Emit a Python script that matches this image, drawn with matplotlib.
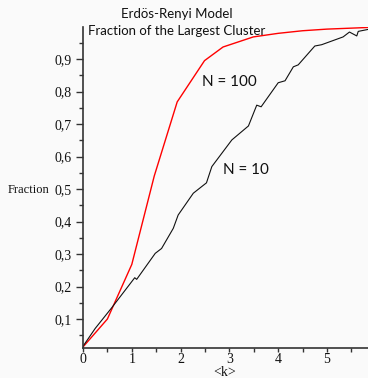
import matplotlib
matplotlib.use("Agg")
import matplotlib.pyplot as plt
from matplotlib.ticker import MultipleLocator, FixedLocator

plt.rcParams["font.family"] = ["Liberation Serif", "DejaVu Serif"]

# N = 100 (red)
k_n100 = [0, 0.5, 1.0, 1.46, 1.93, 2.49, 2.87, 3.49, 4.0, 4.5, 5.0, 5.5, 6.0]
f_n100 = [0.014, 0.10, 0.268, 0.54, 0.768, 0.895, 0.937, 0.968, 0.979, 0.987, 0.992, 0.995, 0.998]

# N = 10 (black)
k_n10 = [0, 0.25, 0.58, 1.06, 1.10, 1.48, 1.61, 1.85, 1.95, 2.26, 2.53, 2.64, 3.05,
         3.39, 3.56, 3.65, 4.0, 4.14, 4.31, 4.41, 4.75, 4.89, 5.33, 5.46, 5.61, 5.64, 5.84, 6.0]
f_n10 = [0.016, 0.071, 0.133, 0.227, 0.222, 0.302, 0.317, 0.379, 0.42, 0.487, 0.519, 0.569, 0.651,
         0.694, 0.758, 0.753, 0.827, 0.833, 0.876, 0.882, 0.94, 0.944, 0.968, 0.983, 0.971, 0.985, 0.991, 0.994]

x_ticks = [0, 1, 2, 3, 4, 5]
y_ticks = [0.1, 0.2, 0.3, 0.4, 0.5, 0.6, 0.7, 0.8, 0.9]
y_tick_labels = ["0,1", "0,2", "0,3", "0,4", "0,5", "0,6", "0,7", "0,8", "0,9"]

bg = "#fafafa"
fig = plt.figure(figsize=(3.68, 3.78), dpi=100, facecolor=bg)
ax = fig.add_axes([83/368, 30.3/378, 1 - 83/368, (347.7 - 27)/378])
ax.set_facecolor(bg)

ax.plot(k_n100, f_n100, color="#ff0000", lw=1.0)
ax.plot(k_n10, f_n10, color="#111111", lw=0.8)

ax.set_xlim(0, 5.84)
ax.set_ylim(0.0117, 0.9985)

for s in ["top", "right"]:
    ax.spines[s].set_visible(False)
for s in ["left", "bottom"]:
    ax.spines[s].set_color("#333333")
    ax.spines[s].set_linewidth(1.2)

serif = "Liberation Serif"
ax.set_xticks(x_ticks)
ax.set_xticklabels([str(v) for v in x_ticks])
ax.xaxis.set_minor_locator(MultipleLocator(0.5))
ax.set_yticks(y_ticks)
ax.set_yticklabels(y_tick_labels)
ax.yaxis.set_minor_locator(FixedLocator([0.05 + 0.1 * i for i in range(10)]))
for lbl in ax.get_xticklabels() + ax.get_yticklabels():
    lbl.set_fontfamily(serif)
    lbl.set_fontsize(10)
    lbl.set_color("#111111")
ax.tick_params(axis="y", which="major", length=5, width=1.0, color="#333333", pad=3)
ax.tick_params(axis="y", which="minor", length=3, width=1.0, color="#333333")
ax.tick_params(axis="x", which="major", length=3, width=1.0, color="#333333", pad=1)
ax.tick_params(axis="x", which="minor", length=3, width=1.0, color="#333333")

fig.text(8/368, 1 - 190/378, "Fraction", fontfamily=serif, fontsize=9, va="center", ha="left", color="#111111")
fig.text(225/368, 1 - 372/378, "<k>", fontfamily=serif, fontsize=10, va="center", ha="center", color="#111111")

sans = ["Lato", "DejaVu Sans"]
fig.text(176.7/368, 1 - 14/378, "Erdös-Renyi Model", fontfamily=sans, fontsize=9.5,
         va="center", ha="center", color="#111111")
fig.text(176.7/368, 1 - 30.7/378, "Fraction of the Largest Cluster", fontfamily=sans, fontsize=9.5,
         va="center", ha="center", color="#111111")

fig.text(202/368, 1 - 81.7/378, "N = 100", fontfamily=sans, fontsize=11, va="center", ha="left", color="#111111")
fig.text(222.7/368, 1 - 170/378, "N = 10", fontfamily=sans, fontsize=11, va="center", ha="left", color="#111111")

fig.savefig("out.png", dpi=100, facecolor=bg)
